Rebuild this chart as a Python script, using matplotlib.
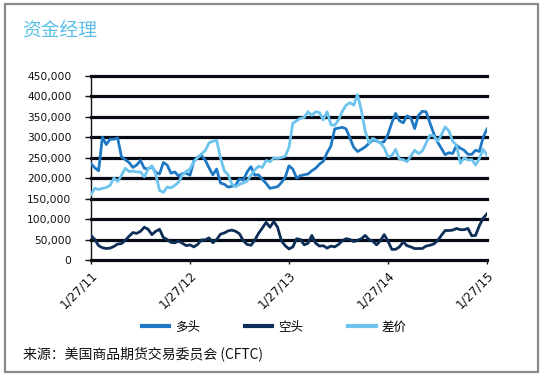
import numpy as np
import pandas as pd
import matplotlib
matplotlib.use("Agg")
import matplotlib.pyplot as plt
from matplotlib.patches import Rectangle

plt.rcParams['font.family'] = ['Noto Sans CJK SC', 'DejaVu Sans']

# ---------------- data (thousands of contracts) ----------------
long_k = [235, 225, 218, 300, 282, 295, 295, 298, 252, 245, 238, 226, 232, 243, 224, 222,
          228, 214, 210, 238, 232, 212, 215, 205, 211, 212, 207, 242, 251, 255, 244, 225,
          208, 222, 188, 185, 178, 180, 183, 198, 195, 215, 228, 207, 208, 197, 187, 175,
          177, 179, 189, 202, 230, 222, 200, 206, 208, 210, 218, 224, 234, 241, 262, 278,
          320, 322, 324, 320, 298, 275, 265, 270, 276, 285, 293, 291, 286, 289, 307, 335,
          358, 340, 335, 352, 347, 321, 353, 363, 362, 335, 309, 288, 273, 257, 262, 260,
          280, 273, 268, 258, 258, 268, 265, 300, 320]
short_k = [60, 50, 35, 30, 28, 29, 33, 39, 40, 48, 58, 67, 65, 70, 80, 75,
           62, 70, 75, 55, 50, 43, 42, 46, 41, 35, 37, 32, 38, 49, 49, 54,
           42, 50, 63, 66, 71, 73, 70, 64, 47, 38, 36, 48, 65, 78, 92, 80,
           94, 80, 47, 35, 27, 32, 52, 50, 37, 41, 60, 41, 34, 35, 29, 34,
           32, 38, 47, 52, 50, 45, 48, 52, 60, 50, 46, 37, 47, 62, 46, 26,
           26, 32, 44, 35, 32, 28, 28, 28, 34, 36, 39, 47, 60, 72, 72, 73,
           77, 74, 74, 77, 59, 60, 84, 102, 113]
spread_k = [160, 175, 172, 175, 177, 182, 200, 192, 207, 224, 216, 217, 215, 215, 203, 222,
            230, 210, 170, 165, 178, 176, 182, 190, 208, 216, 222, 240, 250, 259, 267, 286,
            290, 292, 250, 218, 208, 185, 179, 185, 188, 193, 207, 220, 229, 226, 243, 240,
            249, 248, 250, 253, 275, 334, 340, 346, 348, 362, 353, 362, 360, 342, 362, 330,
            329, 342, 363, 378, 384, 378, 404, 365, 315, 286, 297, 292, 286, 274, 252, 255,
            270, 246, 245, 240, 254, 268, 260, 266, 285, 305, 303, 290, 305, 325, 315, 290,
            280, 236, 250, 244, 245, 232, 248, 270, 256]

series_names = ["多头", "空头", "差价"]
tick_dates = ["2011-01-27", "2012-01-27", "2013-01-27", "2014-01-27", "2015-01-27"]
tick_labels = ["1/27/11", "1/27/12", "1/27/13", "1/27/14", "1/27/15"]
y_ticks = [0, 50000, 100000, 150000, 200000, 250000, 300000, 350000, 400000, 450000]

dates = pd.date_range("2011-01-27", "2015-01-27", periods=len(long_k))
long_v = np.array(long_k) * 1000
short_v = np.array(short_k) * 1000
spread_v = np.array(spread_k) * 1000

# ---------------- styling ----------------
c_long = "#1f78c4"
c_short = "#0d2e57"
c_spread = "#6cc4ee"
c_title = "#5bbfea"

W, H = 543, 377
fig = plt.figure(figsize=(W / 100, H / 100), dpi=100)

# outer frame
fig.patches.append(Rectangle((5 / W, 1 - 372 / H), (538 - 5) / W, (372 - 4) / H,
                             transform=fig.transFigure, fill=False,
                             edgecolor="#8a8a8a", linewidth=1.6))

ax = fig.add_axes([91 / W, 1 - 260 / H, (487 - 91) / W, (260 - 75.7) / H])

for v in y_ticks:
    ax.axhline(v, color="#050a14", linewidth=2.3, zorder=1, clip_on=False)

lw = 2.0
ax.plot(dates, long_v, color=c_long, linewidth=lw, label=series_names[0], zorder=3)
ax.plot(dates, short_v, color=c_short, linewidth=lw, label=series_names[1], zorder=3)
ax.plot(dates, spread_v, color=c_spread, linewidth=lw, label=series_names[2], zorder=3)

ax.set_xlim(pd.Timestamp(tick_dates[0]), pd.Timestamp(tick_dates[-1]))
ax.set_ylim(0, 450000)

ax.set_yticks(y_ticks)
ax.set_yticklabels([f"{v:,}" for v in y_ticks], fontsize=7.7, family="DejaVu Sans",
                   color="#111111")
ax.set_xticks([pd.Timestamp(d) for d in tick_dates])
ax.set_xticklabels(tick_labels, rotation=45, ha="right", va="top",
                   rotation_mode="anchor", fontsize=8.8, family="DejaVu Sans",
                   color="#111111")

ax.tick_params(axis="y", length=4, width=1, color="#111111", pad=10, direction="out")
ax.tick_params(axis="x", length=3, width=1, color="#111111", pad=3, direction="out")

for s in ["top", "right", "bottom"]:
    ax.spines[s].set_visible(False)
ax.spines["left"].set_color("#111111")
ax.spines["left"].set_linewidth(1.0)
ax.set_facecolor("none")

# title
fig.text(22 / W, 1 - 30 / H, "资金经理", fontsize=13.5, color=c_title,
         ha="left", va="center", family=["Noto Sans CJK SC", "DejaVu Sans"])

# legend
leg = fig.legend(loc="center", bbox_to_anchor=(274 / W, 1 - 327 / H), ncol=3,
                 frameon=False, handlelength=2.2, handletextpad=0.45,
                 columnspacing=3.6, prop={"family": ["Noto Sans CJK SC", "DejaVu Sans"], "size": 9})
for line in leg.get_lines():
    line.set_linewidth(3)

# source
fig.text(23 / W, 1 - 354 / H, "来源：美国商品期货交易委员会 (CFTC)", fontsize=10,
         color="#111111", ha="left", va="center",
         family=["Noto Sans CJK SC", "DejaVu Sans"])

fig.savefig("out.png", dpi=100)
